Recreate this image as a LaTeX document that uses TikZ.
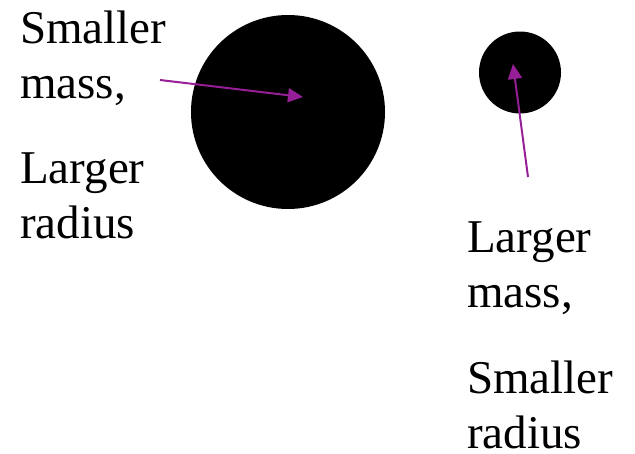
\documentclass[tikz,border=0pt]{standalone}
\usepackage{fontspec}
\setmainfont{Liberation Serif}
\usetikzlibrary{arrows.meta}
\definecolor{arrowpurple}{RGB}{150,30,150}

\begin{document}
\begin{tikzpicture}[x=1pt, y=-1pt, >={Triangle[length=15pt,width=14pt]}]
  \useasboundingbox (0,0) rectangle (635,453);
  \tikzset{
    body/.style={circle, fill=black, inner sep=0pt},
    caption/.style={anchor=base west, align=left, inner sep=0pt,
      text depth=0pt, font=\fontsize{47}{55}\selectfont},
    pointer/.style={->, arrowpurple, line width=2pt}
  }

  % Two bodies
  \node[body, minimum size=194pt] (bigbody) at (288,112) {};
  \node[body, minimum size=82pt] (smallbody) at (520,72.5) {};

  % Left captions (base = last line)
  \node[caption] (leftmass) at (20,98) {Smaller\\mass,};
  \node[caption] (leftradius) at (20,238) {Larger\\radius};

  % Right captions
  \node[caption] (rightmass) at (467,307) {Larger\\mass,};
  \node[caption] (rightradius) at (467,448) {Smaller\\radius};

  % Arrows into the bodies
  \coordinate (bigtail) at (160,80);
  \coordinate (bigtip) at (303,97);
  \coordinate (smalltail) at (528,177);
  \coordinate (smalltip) at (513,64);
  \draw[pointer] (bigtail) -- (bigtip);
  \draw[pointer] (smalltail) -- (smalltip);
\end{tikzpicture}
\end{document}
